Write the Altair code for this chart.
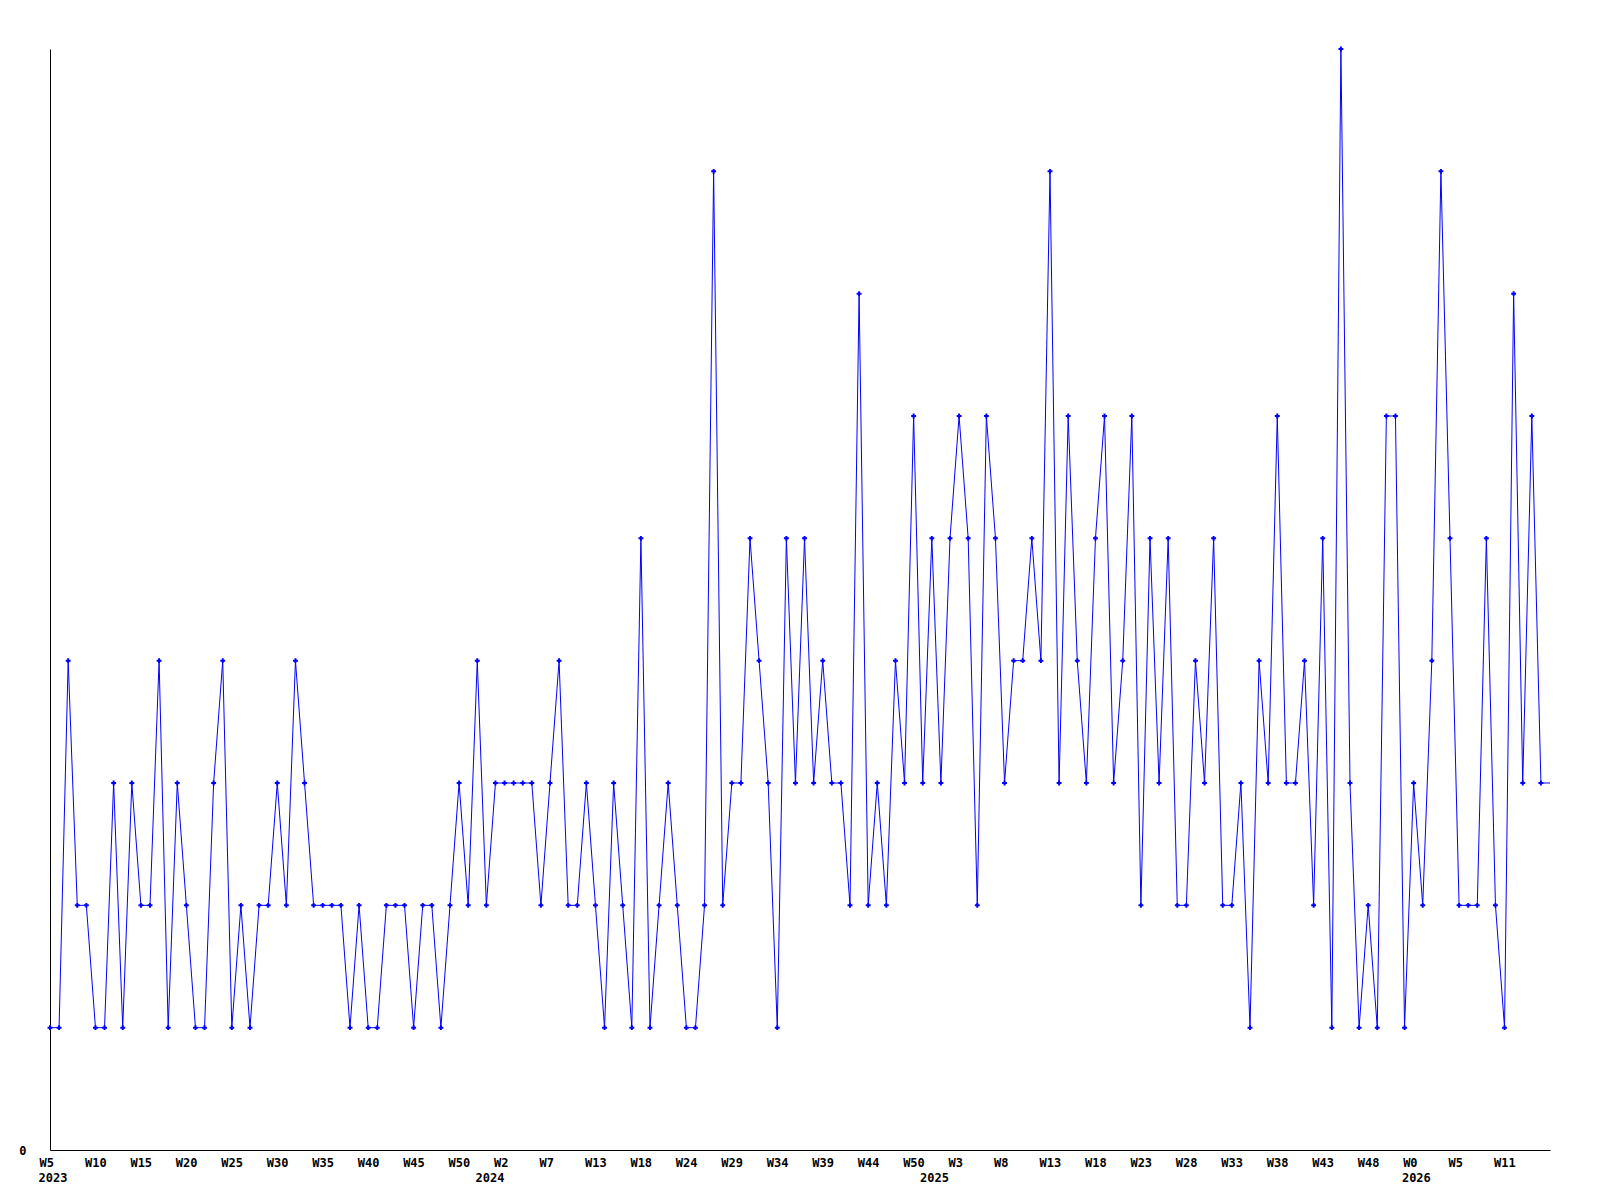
import altair as alt
import pandas as pd

values = [
    1, 1, 4, 2, 2, 1, 1, 3, 1, 3, 2, 2, 4, 1, 3, 2, 1, 1, 3, 4,
    1, 2, 1, 2, 2, 3, 2, 4, 3, 2, 2, 2, 2, 1, 2, 1, 1, 2, 2, 2,
    1, 2, 2, 1, 2, 3, 2, 4, 2, 3, 3, 3, 3, 3, 2, 3, 4, 2, 2, 3,
    2, 1, 3, 2, 1, 5, 1, 2, 3, 2, 1, 1, 2, 8, 2, 3, 3, 5, 4, 3,
    1, 5, 3, 5, 3, 4, 3, 3, 2, 7, 2, 3, 2, 4, 3, 6, 3, 5, 3, 5,
    6, 5, 2, 6, 5, 3, 4, 4, 5, 4, 8, 3, 6, 4, 3, 5, 6, 3, 4, 6,
    2, 5, 3, 5, 2, 2, 4, 3, 5, 2, 2, 3, 1, 4, 3, 6, 3, 3, 4, 2,
    5, 1, 9, 3, 1, 2, 1, 6, 6, 1, 3, 2, 4, 8, 5, 2, 2, 2, 5, 2,
    1, 7, 3, 6, 3, 3,
]

week_labels = [
    "W5", "W10", "W15", "W20", "W25", "W30", "W35", "W40", "W45", "W50",
    "W2", "W7", "W13", "W18", "W24", "W29", "W34", "W39", "W44", "W50",
    "W3", "W8", "W13", "W18", "W23", "W28", "W33", "W38", "W43", "W48",
    "W0", "W5", "W11",
]

year_labels = ["2023", "2024", "2025", "2026"]
year_positions = [0.33, 48.4, 97.3, 150.3]

FONT = "DejaVu Sans Mono"
BLUE = "#0000ff"

df = pd.DataFrame({"i": list(range(len(values))), "v": values})
df_years = pd.DataFrame({"i": year_positions, "t": year_labels})

n = len(values) - 1
tick_vals = [k * 5 for k in range(len(week_labels))]
arr = "[" + ",".join("'" + s + "'" for s in week_labels) + "]"
label_expr = arr + "[round(datum.value/5)]"

x_scale = alt.Scale(domain=[0, n], nice=False, zero=False)
y_scale = alt.Scale(domain=[0, 9], nice=False)

x_axis = alt.Axis(
    values=tick_vals, labelExpr=label_expr, title=None, grid=False,
    ticks=False, tickSize=0, labelPadding=7, labelFont=FONT, labelFontSize=12,
    labelFontWeight="bold", labelColor="black", domainColor="black",
    domainWidth=1, labelAngle=0, labelAlign="left", labelOffset=-11,
    labelBaseline="top", labelOverlap=False, labelFlush=False,
)
y_axis = alt.Axis(
    values=[0], format="d", title=None, grid=False, ticks=False, tickSize=0,
    labelPadding=24, labelFont=FONT, labelFontSize=12, labelFontWeight="bold",
    labelColor="black", domainColor="black", domainWidth=1,
)

base = alt.Chart(df)

line = base.mark_line(color=BLUE, strokeWidth=1).encode(
    x=alt.X("i:Q", scale=x_scale, axis=x_axis),
    y=alt.Y("v:Q", scale=y_scale, axis=y_axis),
)

points = base.transform_filter(alt.datum.i < n).mark_point(
    shape="cross", filled=True, color=BLUE, size=24, opacity=1
).encode(
    x=alt.X("i:Q", scale=x_scale),
    y=alt.Y("v:Q", scale=y_scale),
)

years = alt.Chart(df_years).mark_text(
    font=FONT, fontSize=12, fontWeight="bold", color="black",
    align="center", baseline="alphabetic",
).encode(
    x=alt.X("i:Q", scale=x_scale),
    y=alt.value(1133),
    text="t:N",
)

chart = alt.layer(line, points, years).properties(
    width=1500,
    height=1101,
    autosize=alt.AutoSizeParams(type="none"),
    padding={"left": 42, "top": 41, "right": 30, "bottom": 40},
    background="white",
).configure_view(stroke=None)

chart.save("out.html", embed_options={"renderer": "svg", "actions": False})
